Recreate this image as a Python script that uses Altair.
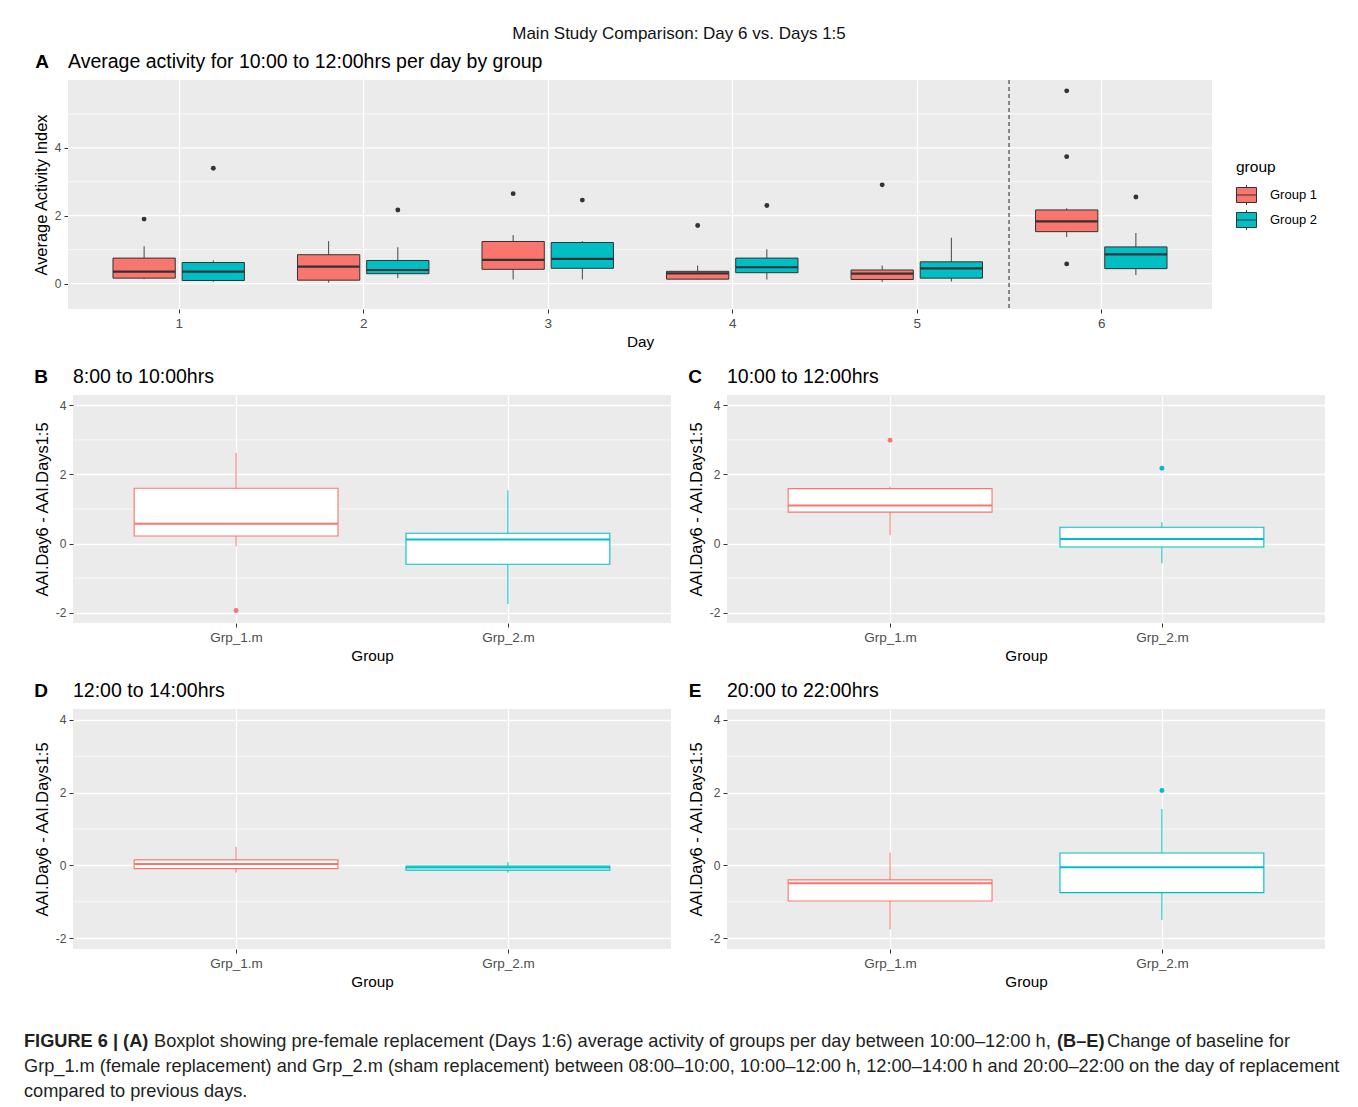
import altair as alt
import pandas as pd

FONT = "Liberation Sans, Arial, Helvetica, sans-serif"
RED, TEAL = "#F8766D", "#00BFC4"
DARK = "#333333"
PANEL_BG = "#EBEBEB"

# ---------------- Panel A data (boxplot summaries per day) ----------------
days = [1, 2, 3, 4, 5, 6]
groups_a = ["Group 1", "Group 2"]
g1_low = [0.13, 0.03, 0.12, 0.12, 0.05, 1.37]
g1_q1 = [0.16, 0.10, 0.42, 0.13, 0.12, 1.53]
g1_med = [0.35, 0.50, 0.70, 0.30, 0.29, 1.83]
g1_q3 = [0.75, 0.85, 1.24, 0.36, 0.40, 2.17]
g1_high = [1.10, 1.25, 1.43, 0.53, 0.53, 2.22]
g2_low = [0.05, 0.16, 0.12, 0.12, 0.06, 0.25]
g2_q1 = [0.09, 0.29, 0.45, 0.32, 0.16, 0.44]
g2_med = [0.35, 0.40, 0.73, 0.48, 0.45, 0.86]
g2_q3 = [0.62, 0.68, 1.21, 0.75, 0.64, 1.08]
g2_high = [0.68, 1.07, 1.25, 1.01, 1.35, 1.49]
out_a_day = [1, 1, 2, 3, 3, 4, 4, 5, 6, 6, 6, 6]
out_a_group = ["Group 1", "Group 2", "Group 2", "Group 1", "Group 2", "Group 1",
               "Group 2", "Group 1", "Group 1", "Group 1", "Group 1", "Group 2"]
out_a_val = [1.90, 3.40, 2.17, 2.65, 2.46, 1.71, 2.30, 2.91, 5.68, 3.74, 0.58, 2.55]
divider_day = [5.5]
major_a = [0, 2, 4]
minor_a = [1, 3, 5]

# ---------------- Panels B-E data (change of baseline) ----------------
groups_b = ["Grp_1.m", "Grp_2.m"]
B_low, B_q1, B_med, B_q3, B_high = [-0.08, -1.75], [0.22, -0.60], [0.57, 0.12], [1.60, 0.30], [2.63, 1.54]
B_out_grp, B_out_val = ["Grp_1.m"], [-1.94]
C_low, C_q1, C_med, C_q3, C_high = [0.24, -0.57], [0.91, -0.10], [1.10, 0.13], [1.59, 0.47], [1.65, 0.62]
C_out_grp, C_out_val = ["Grp_1.m", "Grp_2.m"], [2.99, 2.18]
D_low, D_q1, D_med, D_q3, D_high = [-0.20, -0.20], [-0.09, -0.13], [0.04, -0.06], [0.15, -0.02], [0.51, 0.09]
D_out_grp, D_out_val = [], []
E_low, E_q1, E_med, E_q3, E_high = [-1.76, -1.50], [-0.98, -0.75], [-0.49, -0.05], [-0.40, 0.34], [0.35, 1.55]
E_out_grp, E_out_val = ["Grp_2.m"], [2.06]
major_b = [-2, 0, 2, 4]
minor_b = [-1, 1, 3]

DODGE = 0.1875
HALF_A = 0.16875
HALF_B = 0.375
TITLE_SIZE = 19.5
LETTER_SIZE = 19
CAP_SIZE = 18.2


def label(text, x, y, size, weight="normal", align="left", color="black"):
    return alt.Chart(pd.DataFrame({"t": [text]})).mark_text(
        align=align, baseline="middle", fontSize=size, fontWeight=weight,
        color=color, font=FONT
    ).encode(text="t:N", x=alt.value(x), y=alt.value(y))


# ---------------- Panel A ----------------
rows = []
for g, lo, q1, md, q3, hi, off in [
    (groups_a[0], g1_low, g1_q1, g1_med, g1_q3, g1_high, -DODGE),
    (groups_a[1], g2_low, g2_q1, g2_med, g2_q3, g2_high, DODGE),
]:
    for i, d in enumerate(days):
        rows.append({"day": d, "group": g, "lo": lo[i], "q1": q1[i], "med": md[i],
                     "q3": q3[i], "hi": hi[i], "cx": d + off,
                     "left": d + off - HALF_A, "right": d + off + HALF_A})
a_df = pd.DataFrame(rows)
a_out = pd.DataFrame({"day": out_a_day, "group": out_a_group, "val": out_a_val})
a_out["cx"] = a_out["day"] + a_out["group"].map({groups_a[0]: -DODGE, groups_a[1]: DODGE})

# panel A's plot area starts 5px left of the other panels
A_SHIFT = 5
A_W, A_H = 1139, 229
xa_scale = alt.Scale(domain=[0.4, 6.6], nice=False, zero=False, range=[-A_SHIFT, A_W])
ya_scale = alt.Scale(domain=[-0.75, 6.0], nice=False, zero=False)
xa_axis = alt.Axis(values=days, format="d", title="Day")
ya_axis = alt.Axis(values=major_a, labelExpr="'' + datum.value", title="Average Activity Index",
                   grid=False, offset=A_SHIFT)

a_bg = alt.Chart(pd.DataFrame({"k": [0]})).mark_rect(color=PANEL_BG).encode(
    x=alt.value(-A_SHIFT), x2=alt.value(0), y=alt.value(0), y2=alt.value(A_H))
a_major = alt.Chart(pd.DataFrame({"v": major_a})).mark_rule(color="white", strokeWidth=1.3).encode(
    y=alt.Y("v:Q", scale=ya_scale, axis=ya_axis), x=alt.value(-A_SHIFT), x2=alt.value(A_W))
a_minor = alt.Chart(pd.DataFrame({"v": minor_a})).mark_rule(color="white", strokeWidth=0.7).encode(
    y=alt.Y("v:Q", scale=ya_scale, axis=ya_axis), x=alt.value(-A_SHIFT), x2=alt.value(A_W))
a_div = alt.Chart(pd.DataFrame({"x": divider_day})).mark_rule(
    color="#222222", strokeDash=[4, 3], strokeWidth=1).encode(
    x=alt.X("x:Q", scale=xa_scale, axis=xa_axis))
a_whisk = alt.Chart(a_df).mark_rule(color=DARK, strokeWidth=0.9).encode(
    x=alt.X("cx:Q", scale=xa_scale, axis=xa_axis),
    y=alt.Y("lo:Q", scale=ya_scale, axis=ya_axis), y2="hi:Q")
legend_path = "M-1,-0.75H1V0.75H-1Z M-1,0H1 M0,-0.75V-1 M0,0.75V1"
a_box = alt.Chart(a_df).mark_rect(stroke=DARK, strokeWidth=1).encode(
    x=alt.X("left:Q", scale=xa_scale, axis=xa_axis), x2="right:Q",
    y=alt.Y("q1:Q", scale=ya_scale, axis=ya_axis), y2="q3:Q",
    fill=alt.Fill("group:N", scale=alt.Scale(domain=groups_a, range=[RED, TEAL]),
                  legend=alt.Legend(title="group", orient="none", legendX=1163, legendY=80,
                                    titleFontSize=15.5, titleFontWeight="normal", titleColor="black",
                                    labelFontSize=13, labelColor="black", symbolType=legend_path,
                                    symbolSize=400, symbolStrokeColor=DARK, symbolStrokeWidth=1,
                                    symbolOpacity=1, rowPadding=0, titlePadding=9, labelOffset=13)))
a_med = alt.Chart(a_df).mark_rule(color=DARK, strokeWidth=2.2).encode(
    x=alt.X("left:Q", scale=xa_scale, axis=xa_axis), x2="right:Q",
    y=alt.Y("med:Q", scale=ya_scale, axis=ya_axis))
a_pts = alt.Chart(a_out).mark_circle(size=24, color=DARK, opacity=1).encode(
    x=alt.X("cx:Q", scale=xa_scale, axis=xa_axis),
    y=alt.Y("val:Q", scale=ya_scale, axis=ya_axis))

A = alt.layer(
    a_bg, a_major, a_minor, a_div, a_whisk, a_box, a_med, a_pts,
    label("A", -31, -18, LETTER_SIZE, "bold", "center"),
    label("Average activity for 10:00 to 12:00hrs per day by group", -A_SHIFT, -18, TITLE_SIZE),
    label("Main Study Comparison: Day 6 vs. Days 1:5", 606, -46, 17, "normal", "center", "#111111"),
).properties(width=A_W, height=A_H)


# ---------------- Panels B-E ----------------
def small_panel(letter, title, lo, q1, md, q3, hi, og, ov, w, h):
    df = pd.DataFrame({"group": groups_b, "lo": lo, "q1": q1, "med": md, "q3": q3, "hi": hi})
    df["cx"] = [1, 2]
    df["left"] = df["cx"] - HALF_B
    df["right"] = df["cx"] + HALF_B
    od = pd.DataFrame({"group": og, "val": ov})
    od["cx"] = od["group"].map({groups_b[0]: 1, groups_b[1]: 2})
    xs = alt.Scale(domain=[0.4, 2.6], nice=False, zero=False)
    ys = alt.Scale(domain=[-2.3, 4.3], nice=False, zero=False)
    xax = alt.Axis(values=[1, 2], title="Group",
                   labelExpr=f"datum.value == 1 ? '{groups_b[0]}' : '{groups_b[1]}'")
    yax = alt.Axis(values=major_b, labelExpr="'' + datum.value", title="AAI.Day6 - AAI.Days1:5")
    col = alt.Scale(domain=groups_b, range=[RED, TEAL])
    minor = alt.Chart(pd.DataFrame({"v": minor_b})).mark_rule(color="white", strokeWidth=0.7).encode(
        y=alt.Y("v:Q", scale=ys, axis=yax))
    whisk = alt.Chart(df).mark_rule(strokeWidth=1).encode(
        x=alt.X("cx:Q", scale=xs, axis=xax),
        y=alt.Y("lo:Q", scale=ys, axis=yax), y2="hi:Q",
        stroke=alt.Stroke("group:N", scale=col, legend=None))
    box = alt.Chart(df).mark_rect(fill="white", strokeWidth=1.1).encode(
        x=alt.X("left:Q", scale=xs, axis=xax), x2="right:Q",
        y=alt.Y("q1:Q", scale=ys, axis=yax), y2="q3:Q",
        stroke=alt.Stroke("group:N", scale=col, legend=None))
    med = alt.Chart(df).mark_rule(strokeWidth=2).encode(
        x=alt.X("left:Q", scale=xs, axis=xax), x2="right:Q",
        y=alt.Y("med:Q", scale=ys, axis=yax),
        stroke=alt.Stroke("group:N", scale=col, legend=None))
    layers = [minor, whisk, box, med]
    if len(od):
        pts = alt.Chart(od).mark_circle(size=24, opacity=1).encode(
            x=alt.X("cx:Q", scale=xs, axis=xax),
            y=alt.Y("val:Q", scale=ys, axis=yax),
            color=alt.Color("group:N", scale=col, legend=None))
        layers.append(pts)
    layers.append(label(letter, -32, -18, LETTER_SIZE, "bold", "center"))
    layers.append(label(title, 0, -18, TITLE_SIZE))
    return alt.layer(*layers).properties(width=w, height=h)


B = small_panel("B", "8:00 to 10:00hrs", B_low, B_q1, B_med, B_q3, B_high, B_out_grp, B_out_val, 598, 228)
C = small_panel("C", "10:00 to 12:00hrs", C_low, C_q1, C_med, C_q3, C_high, C_out_grp, C_out_val, 598, 228)
D = small_panel("D", "12:00 to 14:00hrs", D_low, D_q1, D_med, D_q3, D_high, D_out_grp, D_out_val, 598, 240)
E = small_panel("E", "20:00 to 22:00hrs", E_low, E_q1, E_med, E_q3, E_high, E_out_grp, E_out_val, 598, 240)

# ---------------- Caption ----------------
cap_bold1 = "FIGURE 6 | (A)"
cap_reg1 = "Boxplot showing pre-female replacement (Days 1:6) average activity of groups per day between 10:00–12:00 h,"
cap_bold2 = "(B–E)"
cap_reg2 = "Change of baseline for"
cap_line2 = ("Grp_1.m (female replacement) and Grp_2.m (sham replacement) between 08:00–10:00, "
             "10:00–12:00 h, 12:00–14:00 h and 20:00–22:00 on the day of replacement")
cap_line3 = "compared to previous days."
CAP = "#231F20"
caption = alt.layer(
    label(cap_bold1, -49, 35, CAP_SIZE, "bold", "left", CAP),
    label(cap_reg1, 81, 35, CAP_SIZE, "normal", "left", CAP),
    label(cap_bold2, 984, 35, CAP_SIZE, "bold", "left", CAP),
    label(cap_reg2, 1034, 35, CAP_SIZE, "normal", "left", CAP),
    label(cap_line2, -49, 60, CAP_SIZE, "normal", "left", CAP),
    label(cap_line3, -49, 85, CAP_SIZE, "normal", "left", CAP),
).properties(width=1, height=1, view=alt.ViewBackground(fill="white", strokeWidth=0))

chart = alt.vconcat(
    A,
    alt.hconcat(B, C, spacing=16),
    alt.hconcat(D, E, spacing=16),
    caption,
    spacing=17,
).properties(
    padding={"left": 16, "top": 17, "right": 10, "bottom": 0}
).configure(font=FONT).configure_view(
    strokeWidth=0, fill=PANEL_BG
).configure_axis(
    domain=False, tickColor=DARK, tickSize=4, labelColor="#4D4D4D", labelFontSize=12,
    titleFontWeight="normal", titleColor="black", gridColor="white", gridWidth=1.3,
    labelPadding=3
).configure_axisX(
    titleFontSize=15.3, labelFontSize=13.5, titlePadding=5, labelPadding=3
).configure_axisY(
    titleFontSize=16.4, titlePadding=5
)

chart.save("out.html", embed_options={"renderer": "svg", "actions": False})
